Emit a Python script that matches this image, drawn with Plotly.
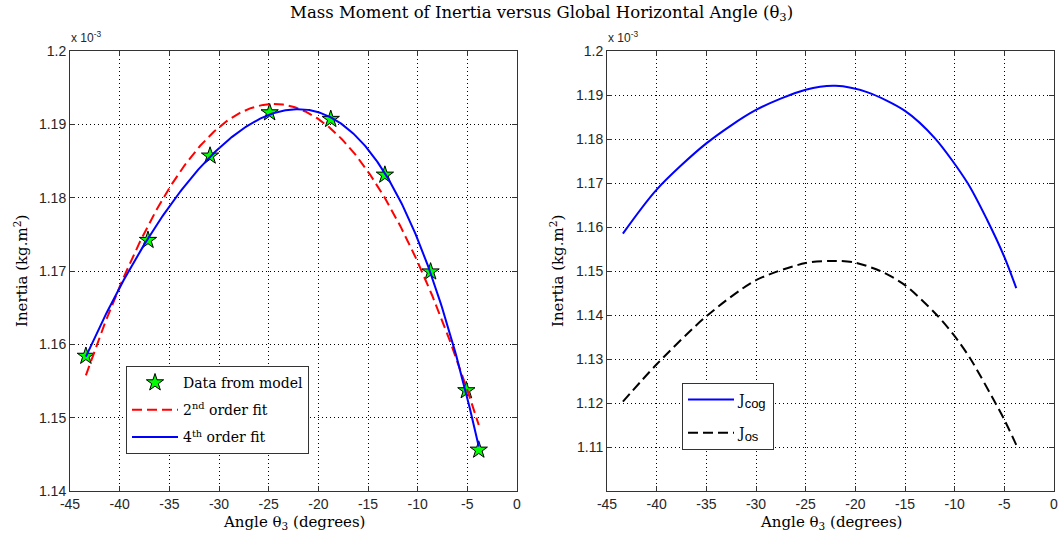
import numpy as np
import plotly.graph_objects as go

# ---- data (inertia values in units of 1e-3 kg.m^2) ----
angle_model = [-43.4, -37.15, -30.9, -24.9, -18.75, -13.3, -8.7, -5.1, -3.85]
inertia_model = [1.1584, 1.1742, 1.1857, 1.1916, 1.1907, 1.1831, 1.1699, 1.1537, 1.1456]

angle_cog = [-43.4, -40, -35, -30, -25, -22, -18.75, -15, -12, -8.7, -6.75, -5, -3.8]
j_cog = [1.1585, 1.1685, 1.1790, 1.1866, 1.1912, 1.1921, 1.1906, 1.1864, 1.1802, 1.1700, 1.1617, 1.1532, 1.1461]

angle_os = [-43.4, -40, -35, -30, -25, -22, -20, -17.5, -15, -11.8, -10, -8.4, -5.9, -5, -3.8]
j_os = [1.1203, 1.1288, 1.1397, 1.1479, 1.1518, 1.1523, 1.1519, 1.1500, 1.1468, 1.1400, 1.1352, 1.1300, 1.1200, 1.1162, 1.1105]

x_ticks = [-45, -40, -35, -30, -25, -20, -15, -10, -5, 0]
x_tick_text = ["-45", "-40", "-35", "-30", "-25", "-20", "-15", "-10", "-5", "0"]
y_ticks_left = [1.14, 1.15, 1.16, 1.17, 1.18, 1.19, 1.20]
y_tick_text_left = ["1.14", "1.15", "1.16", "1.17", "1.18", "1.19", "1.2"]
y_ticks_right = [1.10, 1.11, 1.12, 1.13, 1.14, 1.15, 1.16, 1.17, 1.18, 1.19, 1.20]
y_tick_text_right = ["", "1.11", "1.12", "1.13", "1.14", "1.15", "1.16", "1.17", "1.18", "1.19", "1.2"]

# ---- polynomial fits of the model data ----
x_fit = np.linspace(min(angle_model), max(angle_model), 300)
fit2 = np.polyval(np.polyfit(angle_model, inertia_model, 2), x_fit)
fit4 = np.polyval(np.polyfit(angle_model, inertia_model, 4), x_fit)

W, H = 1060, 541
SERIF = "DejaVu Serif"
SANS = "Liberation Sans"

fig = go.Figure()

fig.add_trace(go.Scatter(
    x=angle_model, y=inertia_model, mode="markers", name="Data from model",
    marker=dict(symbol="star", size=13, color="#00ff00",
                line=dict(color="#000000", width=1)),
    xaxis="x", yaxis="y", legend="legend", legendgroup="a"))
fig.add_trace(go.Scatter(
    x=x_fit, y=fit2, mode="lines", name="2<sup>nd</sup> order fit",
    line=dict(color="#ff0000", width=2, dash="10px,5px"),
    xaxis="x", yaxis="y", legend="legend", legendgroup="b"))
fig.add_trace(go.Scatter(
    x=x_fit, y=fit4, mode="lines", name="4<sup>th</sup> order fit",
    line=dict(color="#0000ff", width=2),
    xaxis="x", yaxis="y", legend="legend", legendgroup="c"))

sub_style = "font-family:Liberation Sans;font-size:13px"
fig.add_trace(go.Scatter(
    x=angle_cog, y=j_cog, mode="lines",
    name=f"J<sub><span style='{sub_style}'>cog</span></sub>",
    line=dict(color="#0000ff", width=2, shape="spline", smoothing=0.8),
    xaxis="x2", yaxis="y2", legend="legend2", legendgroup="d"))
fig.add_trace(go.Scatter(
    x=angle_os, y=j_os, mode="lines",
    name=f"J<sub><span style='{sub_style}'>os</span></sub>",
    line=dict(color="#000000", width=2, dash="10px,5px", shape="spline", smoothing=0.8),
    xaxis="x2", yaxis="y2", legend="legend2", legendgroup="e"))

axis_common = dict(
    showline=True, linecolor="#333333", linewidth=1, mirror="allticks",
    ticks="inside", ticklen=5, tickcolor="#333333",
    showgrid=True, gridcolor="#000000", gridwidth=1, griddash="1px,3px",
    zeroline=False, automargin=False,
    tickfont=dict(family=SANS, size=14, color="#262626"),
)

dom_left = [70 / W, 517 / W]
dom_right = [607 / W, 1054 / W]
dom_y = [50 / H, 490 / H]

legend_common = dict(
    xanchor="left", yanchor="top", bordercolor="#333333", borderwidth=1,
    bgcolor="white", font=dict(family=SERIF, size=14, color="#000000"),
    traceorder="grouped", itemwidth=46,
)

fig.update_layout(
    width=W, height=H,
    margin=dict(l=0, r=0, t=0, b=0),
    paper_bgcolor="white", plot_bgcolor="white",
    xaxis=dict(domain=dom_left, range=[-45, 0], tickvals=x_ticks,
               ticktext=x_tick_text, anchor="y", **axis_common),
    yaxis=dict(domain=dom_y, range=[1.14, 1.20], tickvals=y_ticks_left,
               ticktext=y_tick_text_left, anchor="x", **axis_common),
    xaxis2=dict(domain=dom_right, range=[-45, 0], tickvals=x_ticks,
                ticktext=x_tick_text, anchor="y2", **axis_common),
    yaxis2=dict(domain=dom_y, range=[1.10, 1.20], tickvals=y_ticks_right,
                ticktext=y_tick_text_right, anchor="x2", **axis_common),
    legend=dict(x=126 / W, y=1 - 366 / H, tracegroupgap=6, **legend_common),
    legend2=dict(x=682 / W, y=1 - 383 / H, tracegroupgap=12, **legend_common),
    showlegend=True,
)

ann_font = dict(family=SERIF, size=15, color="#000000")
annotations = [
    dict(text="Mass Moment of Inertia versus Global Horizontal Angle (θ<sub>3</sub>)",
         x=541 / W, y=1 - 14 / H, xanchor="center", yanchor="middle",
         font=dict(family=SERIF, size=16.5, color="#000000")),
    dict(text="Angle θ<sub>3</sub> (degrees)", x=293.5 / W, y=1 - 522 / H,
         xanchor="center", yanchor="middle", font=ann_font),
    dict(text="Angle θ<sub>3</sub> (degrees)", x=830.5 / W, y=1 - 522 / H,
         xanchor="center", yanchor="middle", font=ann_font),
    dict(text="Inertia (kg.m<sup>2</sup>)", x=21 / W, y=1 - 271 / H,
         xanchor="center", yanchor="middle", textangle=-90, font=ann_font),
    dict(text="Inertia (kg.m<sup>2</sup>)", x=557 / W, y=1 - 271 / H,
         xanchor="center", yanchor="middle", textangle=-90, font=ann_font),
    dict(text="x 10<sup>-3</sup>", x=69 / W, y=1 - 47 / H,
         xanchor="left", yanchor="bottom",
         font=dict(family=SANS, size=12, color="#262626")),
    dict(text="x 10<sup>-3</sup>", x=606 / W, y=1 - 47 / H,
         xanchor="left", yanchor="bottom",
         font=dict(family=SANS, size=12, color="#262626")),
]
for a in annotations:
    a.update(xref="paper", yref="paper", showarrow=False)
fig.update_layout(annotations=annotations)

fig.write_html("out.html")
